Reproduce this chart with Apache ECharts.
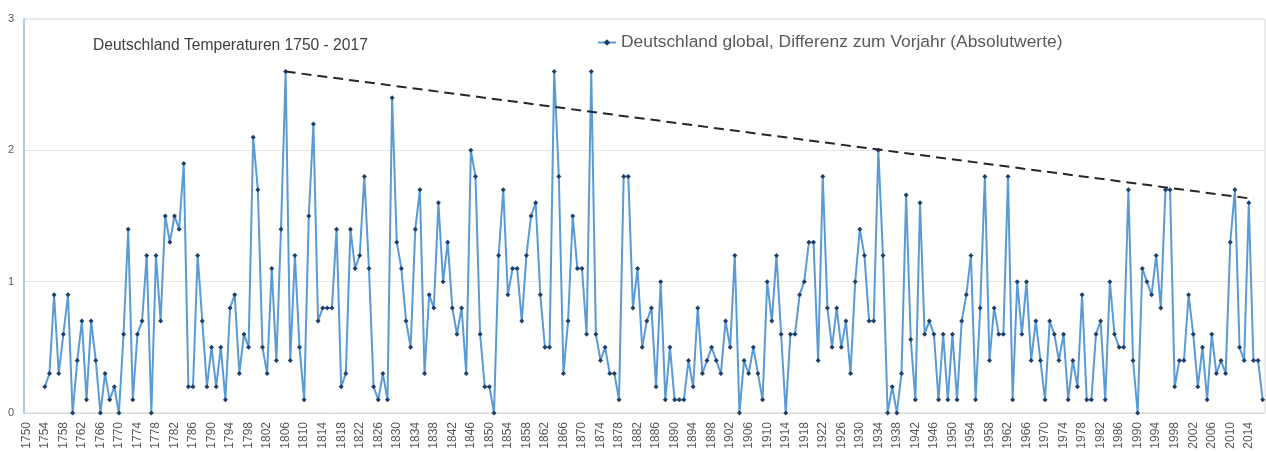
<!DOCTYPE html>
<html>
<head>
<meta charset="utf-8">
<script src="https://cdn.jsdelivr.net/npm/echarts@6/dist/echarts.min.js"></script>
<style>
html,body{margin:0;padding:0;background:#ffffff;}
#chart{width:1266px;height:452px;}
</style>
</head>
<body>
<div id="chart"></div>
<script>
// ---- data ----
const firstYear = 1750;
const lastYear = 2017;
const chartTitle = 'Deutschland Temperaturen 1750 - 2017';
const seriesName = 'Deutschland global, Differenz zum Vorjahr (Absolutwerte)';

// years 1750-1753: no value
const diff1750s = [null, null, null, null, 0.2, 0.3, 0.9, 0.3, 0.6, 0.9];
const diff1760to1799 = [
  0, 0.4, 0.7, 0.1, 0.7, 0.4, 0, 0.3, 0.1, 0.2,
  0, 0.6, 1.4, 0.1, 0.6, 0.7, 1.2, 0, 1.2, 0.7,
  1.5, 1.3, 1.5, 1.4, 1.9, 0.2, 0.2, 1.2, 0.7, 0.2,
  0.5, 0.2, 0.5, 0.1, 0.8, 0.9, 0.3, 0.6, 0.5, 2.1
];
const diff1800to1849 = [
  1.7, 0.5, 0.3, 1.1, 0.4, 1.4, 2.6, 0.4, 1.2, 0.5,
  0.1, 1.5, 2.2, 0.7, 0.8, 0.8, 0.8, 1.4, 0.2, 0.3,
  1.4, 1.1, 1.2, 1.8, 1.1, 0.2, 0.1, 0.3, 0.1, 2.4,
  1.3, 1.1, 0.7, 0.5, 1.4, 1.7, 0.3, 0.9, 0.8, 1.6,
  1.0, 1.3, 0.8, 0.6, 0.8, 0.3, 2.0, 1.8, 0.6, 0.2
];
const diff1850to1899 = [
  0.2, 0, 1.2, 1.7, 0.9, 1.1, 1.1, 0.7, 1.2, 1.5,
  1.6, 0.9, 0.5, 0.5, 2.6, 1.8, 0.3, 0.7, 1.5, 1.1,
  1.1, 0.6, 2.6, 0.6, 0.4, 0.5, 0.3, 0.3, 0.1, 1.8,
  1.8, 0.8, 1.1, 0.5, 0.7, 0.8, 0.2, 1.0, 0.1, 0.5,
  0.1, 0.1, 0.1, 0.4, 0.2, 0.8, 0.3, 0.4, 0.5, 0.4
];
const diff1900to1949 = [
  0.3, 0.7, 0.5, 1.2, 0, 0.4, 0.3, 0.5, 0.3, 0.1,
  1.0, 0.7, 1.2, 0.6, 0, 0.6, 0.6, 0.9, 1.0, 1.3,
  1.3, 0.4, 1.8, 0.8, 0.5, 0.8, 0.5, 0.7, 0.3, 1.0,
  1.4, 1.2, 0.7, 0.7, 2.0, 1.2, 0, 0.2, 0, 0.3,
  1.66, 0.56, 0.1, 1.6, 0.6, 0.7, 0.6, 0.1, 0.6, 0.1
];
const diff1950to1999 = [
  0.6, 0.1, 0.7, 0.9, 1.2, 0.1, 0.8, 1.8, 0.4, 0.8,
  0.6, 0.6, 1.8, 0.1, 1.0, 0.6, 1.0, 0.4, 0.7, 0.4,
  0.1, 0.7, 0.6, 0.4, 0.6, 0.1, 0.4, 0.2, 0.9, 0.1,
  0.1, 0.6, 0.7, 0.1, 1.0, 0.6, 0.5, 0.5, 1.7, 0.4,
  0, 1.1, 1.0, 0.9, 1.2, 0.8, 1.7, 1.7, 0.2, 0.4
];
const diff2000to2017 = [
  0.4, 0.9, 0.6, 0.2, 0.5, 0.1, 0.6, 0.3, 0.4, 0.3,
  1.3, 1.7, 0.5, 0.4, 1.6, 0.4, 0.4, 0.1
];
// dashed upper envelope line
const trendPoints = [['1806', 2.6], ['2015', 1.63]];
const yTicks = { min: 0, max: 3, interval: 1 };

// ---- build ----
const years = [];
for (let y = firstYear; y <= lastYear; y++) years.push(String(y));
const diffValues = [].concat(diff1750s, diff1760to1799, diff1800to1849, diff1850to1899,
  diff1900to1949, diff1950to1999, diff2000to2017);

const chart = echarts.init(document.getElementById('chart'), null, { renderer: 'canvas' });
chart.setOption({
  backgroundColor: '#ffffff',
  animation: false,
  title: {
    text: chartTitle,
    left: 88, top: 33,
    textStyle: { fontFamily: 'Liberation Sans', fontSize: 15.6, fontWeight: 'normal', color: '#404040' }
  },
  legend: {
    data: [seriesName],
    left: 592, top: 29,
    itemWidth: 18, itemHeight: 8,
    textStyle: { fontFamily: 'Liberation Sans', fontSize: 17.4, color: '#595959' }
  },
  grid: { left: 24, right: 1, top: 19, bottom: 39, show: true, borderColor: '#D9D9D9', borderWidth: 1 },
  xAxis: {
    type: 'category',
    data: years,
    boundaryGap: true,
    axisLine: { show: true, lineStyle: { color: '#D9D9D9', width: 1 } },
    axisTick: { show: false },
    axisLabel: {
      interval: 3, rotate: 90, margin: 9,
      fontFamily: 'Liberation Sans', fontSize: 12, color: '#595959'
    },
    splitLine: { show: false }
  },
  yAxis: {
    type: 'value',
    min: yTicks.min, max: yTicks.max, interval: yTicks.interval,
    axisLine: { show: true, lineStyle: { color: '#9DC3E6', width: 1.5 } },
    axisTick: { show: false },
    axisLabel: { margin: 10, fontFamily: 'Liberation Sans', fontSize: 11, color: '#595959' },
    splitLine: { show: true, lineStyle: { color: '#E6E6E6', width: 1 } }
  },
  series: [
    {
      name: seriesName,
      type: 'line',
      data: diffValues,
      showSymbol: true,
      showAllSymbol: true,
      symbol: 'diamond',
      symbolSize: 5,
      lineStyle: { color: '#5B9BD5', width: 2 },
      itemStyle: { color: '#1F3F6B', borderWidth: 0 },
      connectNulls: false,
      z: 3
    },
    {
      name: 'Trend',
      type: 'line',
      data: trendPoints,
      showSymbol: false,
      symbol: 'none',
      lineStyle: { color: '#262626', width: 2, type: [10, 6] },
      z: 4,
      silent: true
    }
  ]
});
</script>
</body>
</html>
